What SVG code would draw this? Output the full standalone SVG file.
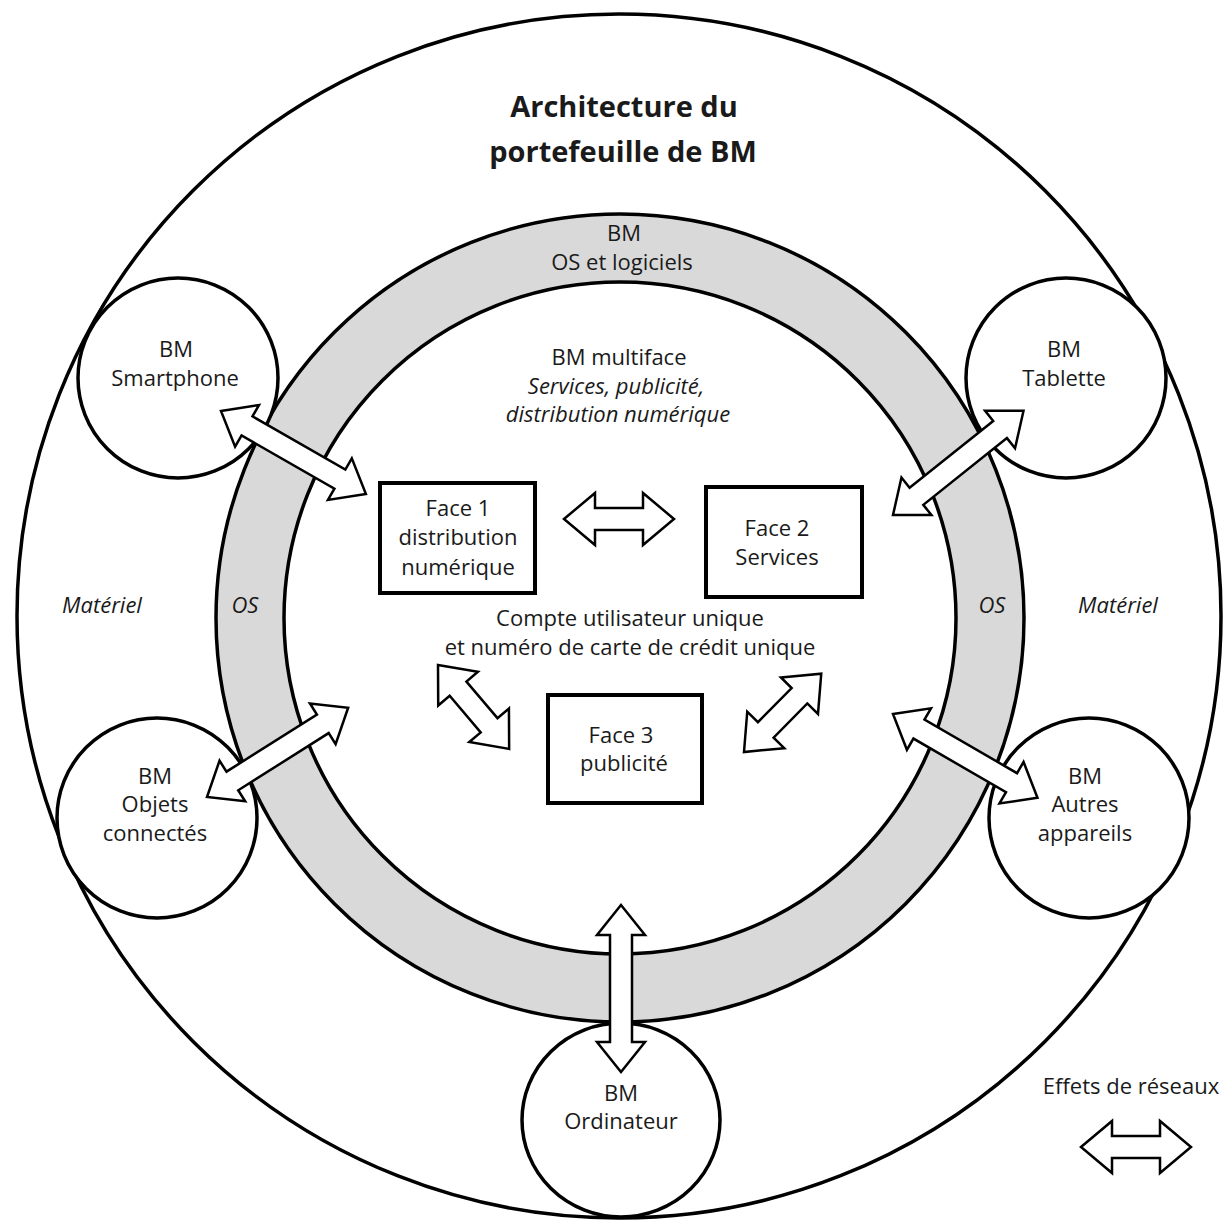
<svg xmlns="http://www.w3.org/2000/svg" xmlns:xlink="http://www.w3.org/1999/xlink" width="1224" height="1221" viewBox="0 0 1224 1221">
<style>
.ln{fill:#fff;stroke:#000;stroke-width:3.5}
.ring{fill:#d9d9d9;stroke:#000;stroke-width:3.5}
.box{fill:#fff;stroke:#000;stroke-width:4}
.arr{fill:#fff;stroke:#000;stroke-width:2.5;stroke-linejoin:miter}
text{font-family:"Open Sans","Liberation Sans",sans-serif;font-size:22px;fill:#1a1a1a;text-anchor:middle}
.it{font-style:italic}
.title{font-weight:bold;font-size:29px}
</style>
<defs>
<path id="aL" d="M0,0 L30,-24 L30,-11 L137,-11 L137,-24 L167,0 L137,24 L137,11 L30,11 L30,24 Z"/>
<path id="aS" d="M0,0 L31,-26 L31,-11 L79,-11 L79,-26 L110,0 L79,26 L79,11 L31,11 L31,26 Z"/>
</defs>
<rect width="1224" height="1221" fill="#fff"/>
<g id="hardware">
<circle class="ln" cx="619" cy="616" r="602"/>
<text class="title" x="624" y="117">Architecture du</text>
<text class="title" x="623" y="162">portefeuille de BM</text>
<text class="it" x="102" y="613">Matériel</text>
<text class="it" x="1118" y="613">Matériel</text>
</g>
<g id="os-ring">
<circle class="ring" cx="620" cy="618" r="404"/>
<circle class="ln" cx="620" cy="618" r="336"/>
<text x="624" y="241">BM</text>
<text x="622" y="270">OS et logiciels</text>
<text class="it" x="245" y="613">OS</text>
<text class="it" x="992" y="613">OS</text>
</g>
<g id="multiface">
<text x="619" y="365">BM multiface</text>
<text class="it" x="616" y="394">Services, publicité,</text>
<text class="it" x="618" y="422">distribution numérique</text>
<text x="630" y="626">Compte utilisateur unique</text>
<text x="630" y="655">et numéro de carte de crédit unique</text>
</g>
<g id="smartphone">
<circle class="ln" cx="178" cy="378" r="100"/>
<text x="176" y="357">BM</text>
<text x="175" y="386">Smartphone</text>
</g>
<g id="tablette">
<circle class="ln" cx="1066" cy="378" r="100"/>
<text x="1064" y="357">BM</text>
<text x="1064" y="386">Tablette</text>
</g>
<g id="objets">
<circle class="ln" cx="157" cy="818" r="100"/>
<text x="155" y="784">BM</text>
<text x="155" y="812">Objets</text>
<text x="155" y="841">connectés</text>
</g>
<g id="autres">
<circle class="ln" cx="1089" cy="818" r="100"/>
<text x="1085" y="784">BM</text>
<text x="1085" y="812">Autres</text>
<text x="1085" y="841">appareils</text>
</g>
<g id="ordinateur">
<ellipse class="ln" cx="621" cy="1120" rx="99" ry="97"/>
<text x="621" y="1101">BM</text>
<text x="621" y="1129">Ordinateur</text>
</g>
<g id="face1">
<rect class="box" x="380" y="483" width="155" height="110"/>
<text x="458" y="516">Face 1</text>
<text x="458" y="545">distribution</text>
<text x="458" y="575">numérique</text>
</g>
<g id="face2">
<rect class="box" x="706" y="487" width="156" height="110"/>
<text x="777" y="536">Face 2</text>
<text x="777" y="565">Services</text>
</g>
<g id="face3">
<rect class="box" x="548" y="695" width="154" height="108"/>
<text x="621" y="743">Face 3</text>
<text x="624" y="771">publicité</text>
</g>
<g id="connectors">
<use xlink:href="#aL" class="arr" transform="translate(221,411) rotate(29.8)"/>
<use xlink:href="#aL" class="arr" transform="translate(893,515) rotate(-38.6)"/>
<use xlink:href="#aL" class="arr" transform="translate(207,797) rotate(-32.3)"/>
<use xlink:href="#aL" class="arr" transform="translate(893,714) rotate(30.1)"/>
<use xlink:href="#aL" class="arr" transform="translate(621,905) rotate(90)"/>
<use xlink:href="#aS" class="arr" transform="translate(564,519)"/>
<use xlink:href="#aS" class="arr" transform="translate(438,665) rotate(49.7)"/>
<use xlink:href="#aS" class="arr" transform="translate(744,752) rotate(-45.4)"/>
</g>
<g id="legend">
<text x="1131" y="1094">Effets de réseaux</text>
<use xlink:href="#aS" class="arr" transform="translate(1081,1147)"/>
</g>
</svg>
